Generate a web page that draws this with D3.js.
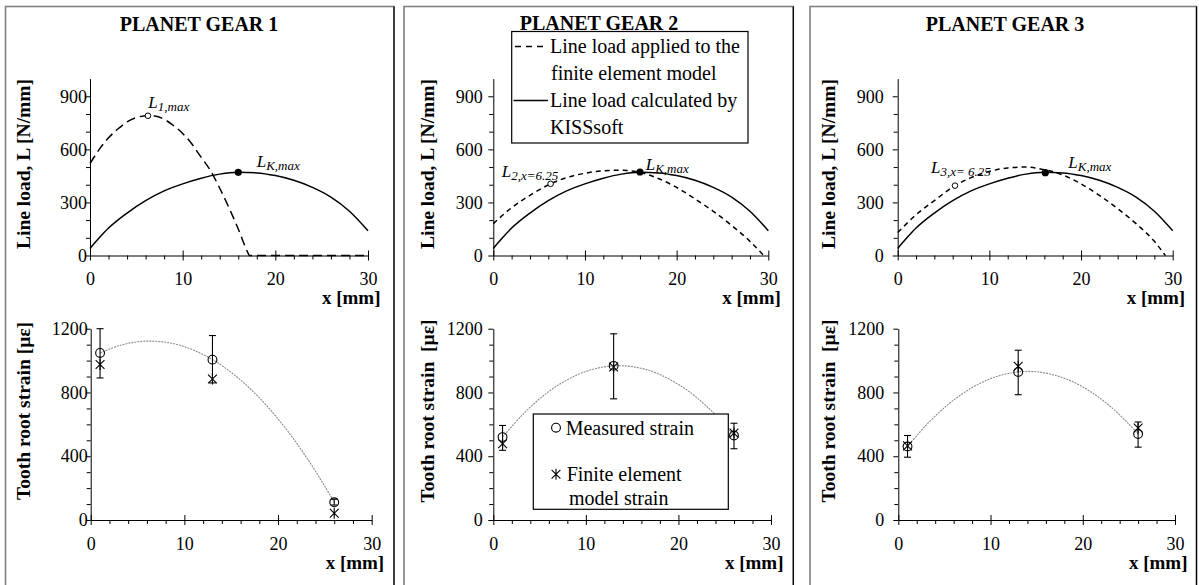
<!DOCTYPE html>
<html>
<head>
<meta charset="utf-8">
<script src="https://cdn.jsdelivr.net/npm/d3@7"></script>
<style>
  body { margin: 0; background: #fff; }
  svg text { font-family: "Liberation Serif", "Tinos", "Times New Roman", "DejaVu Serif", serif; fill: #000; }
</style>
</head>
<body>
<svg id="chart" width="1199" height="585" font-family="Liberation Serif, Times New Roman, serif"></svg>
<script>
// ---- data ----
var titles = ["PLANET GEAR 1", "PLANET GEAR 2", "PLANET GEAR 3"];
var loadTicks = [0, 300, 600, 900];
var strainTicks = [0, 400, 800, 1200];
var xTicks = [0, 10, 20, 30];

// line load calculated by KISSsoft (same in all three gears)
var kissX    = [0, 1, 2, 4, 6, 8, 10, 12, 14, 16, 18, 20, 22, 24, 26, 28, 30];
var kissLoad = [40, 100, 155, 240, 310, 365, 405, 437, 460, 470, 467, 452, 425, 385, 330, 250, 140];

// line load applied to the FE model
var fem1X    = [0, 1, 2, 3, 4, 5, 6.25, 7, 8, 9, 10, 11, 12, 13, 14, 15, 16, 17, 17.2, 20, 25, 30];
var fem1Load = [520, 600, 665, 715, 755, 780, 790, 788, 770, 735, 690, 630, 555, 480, 380, 270, 150, 20, 0, 0, 0, 0];
var fem2X    = [0, 2, 4, 6.25, 8, 10, 12, 14, 16, 18, 20, 22, 24, 26, 28, 29.5];
var fem2Load = [180, 270, 340, 405, 440, 465, 479, 482, 470, 435, 385, 320, 250, 170, 80, 0];
var fem3X    = [0, 2, 4, 6.25, 8, 10, 12, 14, 16, 18, 20, 22, 24, 26, 28, 29.2];
var fem3Load = [130, 230, 310, 395, 440, 475, 495, 500, 485, 455, 405, 340, 265, 180, 80, 0];

var peakX = [16, 16, 16.1];
var peakLoad = [470, 472, 468];
var markX = [6.25, 6.25, 6.25];
var markLoad = [790, 405, 395];
var markSub = ["1,max", "2,x=6.25", "3,x= 6.25"];

// tooth root strain
var gaugeX = [1, 13, 26];
var meas1 = [1048, 1006, 111], lo1 = [891, 860, 94],  hi1 = [1200, 1157, 130], fe1 = [975, 885, 42];
var meas2 = [520, 967, 530],   lo2 = [437, 760, 447], hi2 = [593, 1168, 607],  fe2 = [478, 960, 545];
var meas3 = [461, 929, 539],   lo3 = [394, 786, 457], hi3 = [530, 1065, 615],  fe3 = [465, 964, 577];

// polynomial trend lines as drawn
var trendX = [1, 3, 5, 7, 9, 11, 13, 15, 17, 19, 21, 23, 25, 26];
var trend1 = [1048, 1093, 1118, 1121, 1104, 1065, 1006, 926, 825, 703, 560, 396, 211, 111];
var trend2 = [520, 651, 760, 846, 909, 949, 967, 962, 935, 884, 812, 716, 598, 530];
var trend3 = [461, 594, 705, 794, 861, 906, 929, 930, 908, 865, 799, 712, 602, 539];

var femX = [fem1X, fem2X, fem3X], femLoad = [fem1Load, fem2Load, fem3Load];
var meas = [meas1, meas2, meas3], lo = [lo1, lo2, lo3], hi = [hi1, hi2, hi3], fe = [fe1, fe2, fe3];
var trend = [trend1, trend2, trend3];

// ---- layout ----
var panels = [
  {left: 5.5, right: 394, xt: [90, 368],      xb: [90.7, 371.7], gap: 3,  titleX: 23,  headX: 199, headY: 31, dash: "9,5",
   kLab: [256.7, 167], mLab: [148.3, 108]},
  {left: 404, right: 793.3, xt: [493.3, 768.3], xb: [493.3, 771], gap: 10.5, titleX: 427, headX: 599, headY: 29.5, dash: "5,4",
   kLab: [645.7, 170], mLab: [501.7, 177]},
  {left: 810, right: 1196.5, xt: [897.7, 1172.7], xb: [898.3, 1175], gap: 14, titleX: 828, headX: 1005, headY: 31, dash: "5,4",
   kLab: [1068.3, 168.3], mLab: [931, 173]}
];

var svg = d3.select("#chart");
var fmt = d3.format("d");

function styleAxis(g, size) {
  g.attr("font-family", null).attr("font-size", null);
  g.selectAll("path.domain").attr("stroke", "#000").attr("stroke-width", 1);
  g.selectAll("line").attr("stroke", "#000");
  g.selectAll("text").style("font-size", size + "px");
}

function drawAxes(p, x, y, yTicks, yMax, x0, yZero) {
  // minor ticks
  var xMinor = d3.range(0, 31, 2).filter(function(v) { return v % 10 !== 0; });
  svg.append("g").attr("transform", "translate(0," + yZero + ")")
    .call(d3.axisBottom(x).tickValues(xMinor).tickSize(4).tickSizeOuter(0).tickFormat(""))
    .call(function(g) { g.select(".domain").remove(); g.selectAll("line").attr("stroke", "#000"); });
  var yMinor = d3.range(100, yMax, 100).filter(function(v) { return yTicks.indexOf(v) < 0; });
  svg.append("g").attr("transform", "translate(" + x0 + ",0)")
    .call(d3.axisLeft(y).tickValues(yMinor).tickSize(4).tickSizeOuter(0).tickFormat(""))
    .call(function(g) { g.select(".domain").remove(); g.selectAll("line").attr("stroke", "#000"); });

  var gx = svg.append("g").attr("transform", "translate(0," + yZero + ")")
    .call(d3.axisBottom(x).tickValues(xTicks).tickFormat(fmt).tickSize(5).tickSizeOuter(0).tickPadding(12));
  gx.selectAll(".tick line").attr("y1", -5);
  styleAxis(gx, 18);

  var gy = svg.append("g").attr("transform", "translate(" + x0 + ",0)")
    .call(d3.axisLeft(y).tickValues(yTicks).tickFormat(fmt).tickSize(5).tickSizeOuter(0).tickPadding(p.gap - 5));
  styleAxis(gy, 18);

  svg.append("text").attr("x", x.range()[1] + 12.5).attr("y", yZero + 48.5)
    .attr("text-anchor", "end").style("font-weight", "bold").style("font-size", "19px").text("x [mm]");
}

function star(g, cx, cy, r) {
  var s = r * 0.8;
  g.append("path")
    .attr("d", "M" + (cx - s) + "," + (cy - s) + "L" + (cx + s) + "," + (cy + s) +
               "M" + (cx - s) + "," + (cy + s) + "L" + (cx + s) + "," + (cy - s) +
               "M" + cx + "," + (cy - r) + "L" + cx + "," + (cy + r))
    .attr("stroke", "#000").attr("stroke-width", 1.1).attr("fill", "none");
}

panels.forEach(function(p, i) {
  // frame
  svg.append("rect").attr("x", p.left).attr("y", 6.5).attr("width", p.right - p.left).attr("height", 600)
    .attr("fill", "none").attr("stroke", "#808080").attr("stroke-width", 1.6);
  svg.append("line").attr("x1", p.right).attr("x2", p.right).attr("y1", 6.5).attr("y2", 590)
    .attr("stroke", "#000").attr("stroke-width", 1.2);

  // ---- line load chart ----
  var x = d3.scaleLinear().domain([0, 30]).range(p.xt);
  var y = d3.scaleLinear().domain([0, 1000]).range([255.5, 78.6]);
  drawAxes(p, x, y, loadTicks, 1000, p.xt[0], y(0));

  svg.append("text").attr("transform", "translate(" + p.titleX + ",164) rotate(-90)")
    .attr("text-anchor", "middle").attr("dy", "0.35em")
    .style("font-weight", "bold").style("font-size", "19.5px").text("Line load, L [N/mm]");

  var line = d3.line().curve(d3.curveMonotoneX);
  svg.append("path")
    .attr("d", line(femX[i].map(function(v, k) { return [x(v), y(femLoad[i][k])]; })))
    .attr("fill", "none").attr("stroke", "#000").attr("stroke-width", 1.5).attr("stroke-dasharray", p.dash);
  svg.append("path")
    .attr("d", line(kissX.map(function(v, k) { return [x(v), y(kissLoad[k])]; })))
    .attr("fill", "none").attr("stroke", "#000").attr("stroke-width", 1.5);

  svg.append("circle").attr("cx", x(markX[i])).attr("cy", y(markLoad[i])).attr("r", 2.8)
    .attr("fill", "#fff").attr("stroke", "#000").attr("stroke-width", 1);
  svg.append("circle").attr("cx", x(peakX[i])).attr("cy", y(peakLoad[i])).attr("r", 3.6).attr("fill", "#000");

  var t1 = svg.append("text").attr("x", p.mLab[0]).attr("y", p.mLab[1]).style("font-style", "italic");
  t1.append("tspan").style("font-size", "17px").text("L");
  t1.append("tspan").style("font-size", "13px").attr("dy", 3).text(markSub[i]);
  var t2 = svg.append("text").attr("x", p.kLab[0]).attr("y", p.kLab[1]).style("font-style", "italic");
  t2.append("tspan").style("font-size", "17px").text("L");
  t2.append("tspan").style("font-size", "13px").attr("dy", 3).text("K,max");

  // ---- strain chart ----
  var xs = d3.scaleLinear().domain([0, 30]).range(p.xb);
  var ys = d3.scaleLinear().domain([0, 1200]).range([520, 328.7]);
  drawAxes(p, xs, ys, strainTicks, 1200, p.xb[0], ys(0));

  svg.append("text").attr("transform", "translate(" + p.titleX + ",411) rotate(-90)")
    .attr("text-anchor", "middle").attr("dy", "0.35em").attr("xml:space", "preserve")
    .style("font-weight", "bold").style("font-size", "19.5px")
    .text(i === 0 ? "Tooth root strain [με]" : "Tooth root strain  [με]");

  svg.append("path")
    .attr("d", d3.line().curve(d3.curveCatmullRom)(trendX.map(function(v, k) { return [xs(v), ys(trend[i][k])]; })))
    .attr("fill", "none").attr("stroke", "#8c8c8c").attr("stroke-width", 1.1).attr("stroke-dasharray", "2,1");

  var g = svg.append("g");
  gaugeX.forEach(function(gx, k) {
    var cx = xs(gx);
    g.append("line").attr("x1", cx).attr("x2", cx).attr("y1", ys(lo[i][k])).attr("y2", ys(hi[i][k]))
      .attr("stroke", "#000").attr("stroke-width", 1.1);
    [lo[i][k], hi[i][k]].forEach(function(v) {
      g.append("line").attr("x1", cx - 3.5).attr("x2", cx + 3.5).attr("y1", ys(v)).attr("y2", ys(v))
        .attr("stroke", "#000").attr("stroke-width", 1.1);
    });
    g.append("circle").attr("cx", cx).attr("cy", ys(meas[i][k])).attr("r", 4.4)
      .attr("fill", "none").attr("stroke", "#000").attr("stroke-width", 1.1);
    star(g, cx, ys(fe[i][k]), 5.5);
  });
});

// ---- legends (planet gear 2) ----
var lg = svg.append("g");
lg.append("rect").attr("x", 511.7).attr("y", 31.5).attr("width", 236.3).attr("height", 111.5)
  .attr("fill", "#fff").attr("stroke", "#000").attr("stroke-width", 1.2);
lg.append("line").attr("x1", 515).attr("x2", 546).attr("y1", 46.5).attr("y2", 46.5)
  .attr("stroke", "#000").attr("stroke-width", 1.5).attr("stroke-dasharray", "6,5");
lg.append("line").attr("x1", 513.5).attr("x2", 548).attr("y1", 100.5).attr("y2", 100.5)
  .attr("stroke", "#000").attr("stroke-width", 1.5);
[["Line load applied to the", 550, 53], ["finite element model", 551, 80],
 ["Line load calculated by", 550, 107], ["KISSsoft", 550, 134]].forEach(function(d) {
  lg.append("text").attr("x", d[1]).attr("y", d[2]).style("font-size", "20px").text(d[0]);
});

var lg2 = svg.append("g");
lg2.append("rect").attr("x", 533.3).attr("y", 414).attr("width", 195).attr("height", 95.3)
  .attr("fill", "#fff").attr("stroke", "#000").attr("stroke-width", 1.2);
lg2.append("circle").attr("cx", 556).attr("cy", 427.7).attr("r", 4.4)
  .attr("fill", "none").attr("stroke", "#000").attr("stroke-width", 1.1);
star(lg2, 556, 474.3, 5.5);
[["Measured strain", 565.7, 434.5], ["Finite element", 566.7, 481], ["model strain", 569, 505]].forEach(function(d) {
  lg2.append("text").attr("x", d[1]).attr("y", d[2]).style("font-size", "20px").text(d[0]);
});

// headers last so nothing covers them
panels.forEach(function(p, i) {
  svg.append("text").attr("x", p.headX).attr("y", p.headY).attr("text-anchor", "middle")
    .style("font-weight", "bold").style("font-size", "20px").text(titles[i]);
});
</script>
</body>
</html>
